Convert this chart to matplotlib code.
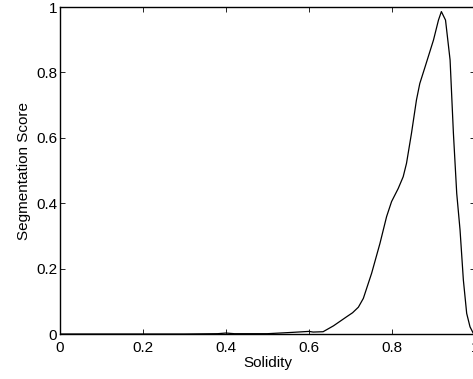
import matplotlib
matplotlib.use("Agg")
import matplotlib.pyplot as plt

plt.rcParams['font.family'] = ['Liberation Sans', 'DejaVu Sans']

# values
solidity = [0.0, 0.30, 0.38, 0.40, 0.42, 0.50, 0.56, 0.60, 0.61, 0.634, 0.659, 0.691,
            0.705, 0.719, 0.731, 0.751, 0.771, 0.787, 0.799, 0.815, 0.827, 0.835, 0.847,
            0.859, 0.867, 0.880, 0.900, 0.912, 0.919, 0.929, 0.940, 0.948, 0.956,
            0.964, 0.972, 0.980, 0.988, 0.996, 1.0]
score = [0.0, 0.0, 0.001, 0.003, 0.001, 0.001, 0.005, 0.008, 0.006, 0.007, 0.025, 0.053,
         0.065, 0.082, 0.109, 0.186, 0.277, 0.359, 0.405, 0.445, 0.481, 0.522, 0.614,
         0.716, 0.766, 0.818, 0.899, 0.96, 0.986, 0.96, 0.838, 0.614, 0.43,
         0.318, 0.165, 0.063, 0.022, 0.002, 0.0]

xticks = [0, 0.2, 0.4, 0.6, 0.8, 1]
yticks = [0, 0.2, 0.4, 0.6, 0.8, 1]
ticklabels = ['0', '0.2', '0.4', '0.6', '0.8', '1']

fig = plt.figure(figsize=(4.73, 3.79), dpi=100)
ax = fig.add_axes([0.1268, 0.1187, 0.8774, 0.8628])

ax.plot(solidity, score, color='black', linewidth=0.9)

ax.set_xlim(0, 1)
ax.set_ylim(0, 1)
ax.set_xticks(xticks)
ax.set_yticks(yticks)
ax.set_xticklabels(ticklabels)
ax.set_yticklabels(ticklabels)
ax.tick_params(direction='in', top=True, right=True, length=3.5, width=0.6,
               labelsize=11, colors='black')
ax.tick_params(axis='x', pad=5)
ax.tick_params(axis='y', pad=2)
for s in ax.spines.values():
    s.set_linewidth(1.0)

ax.set_xlabel('Solidity', fontsize=11, labelpad=1)
ax.set_ylabel('Segmentation Score', fontsize=11, labelpad=4)

fig.savefig('out.png', dpi=100)
